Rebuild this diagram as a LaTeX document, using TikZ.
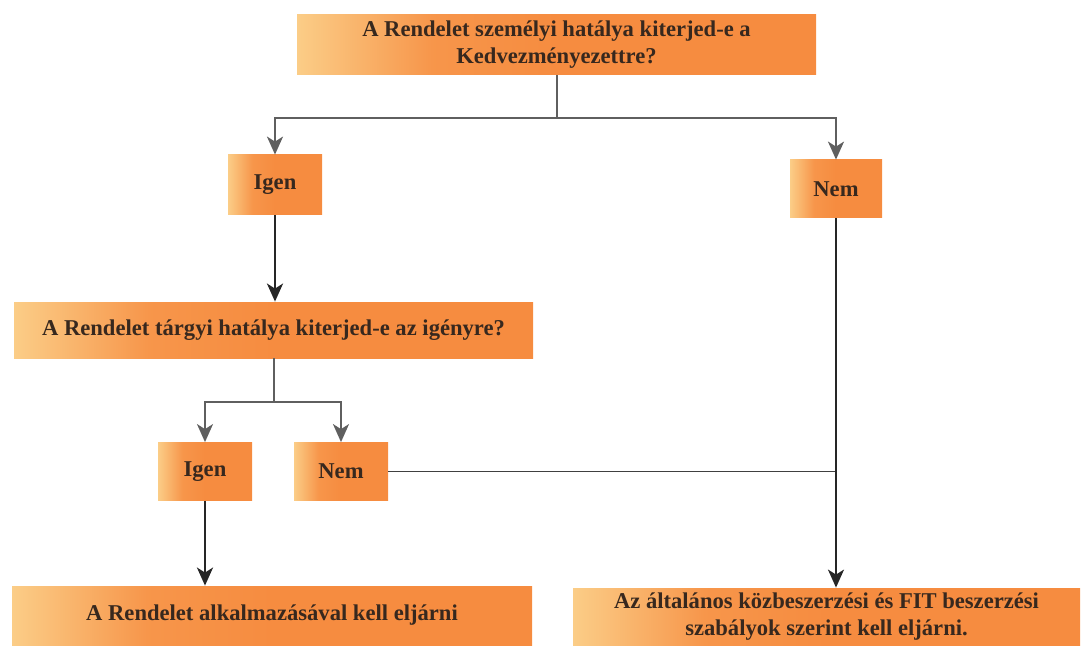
\documentclass[tikz,border=0pt]{standalone}
\usepackage{fontspec}
\setmainfont{Liberation Serif}
\usetikzlibrary{positioning, arrows.meta}

\definecolor{boxlight}{RGB}{251,205,135}
\definecolor{boxdark}{RGB}{246,140,64}
\definecolor{linegray}{RGB}{95,95,95}
\definecolor{textdark}{RGB}{55,40,30}
\pgfdeclarehorizontalshading{boxshade}{100bp}{color(0bp)=(boxlight); color(25bp)=(boxlight);
  color(38bp)=(boxdark!85!boxlight); color(50bp)=(boxdark); color(100bp)=(boxdark)}

\begin{document}
\begin{tikzpicture}[x=0.5pt, y=-0.5pt,
  box/.style={shading=boxshade, text=textdark,
    font=\bfseries\fontsize{11.3}{13.5}\selectfont,
    align=center, inner sep=0pt},
  grayline/.style={draw=linegray, line width=1pt},
  grayarrow/.style={grayline, -{Stealth[length=9pt,width=8pt,inset=2.5pt]}},
  blackarrow/.style={draw=black!85, line width=1.3pt, -{Stealth[length=9pt,width=8pt,inset=2.5pt]}}]
\useasboundingbox (0,0) rectangle (1083,647);

\node (q1) [box, minimum width=259.5pt, minimum height=30pt] at (556.5,45)
  {A Rendelet személyi hatálya kiterjed-e a\\Kedvezményezettre?};
\node (igen1) [box, minimum width=47pt, minimum height=30pt] at (275,185) {Igen};
\node (nem1) [box, minimum width=46pt, minimum height=29pt] at (836,189) {Nem};
\node (q2) [box, minimum width=259.5pt, minimum height=28pt] at (273.5,330)
  {A Rendelet tárgyi hatálya kiterjed-e az igényre?};
\node (igen2) [box, minimum width=47pt, minimum height=29pt] at (205,471.5) {Igen};
\node (nem2) [box, minimum width=47pt, minimum height=29pt] at (341,471.5) {Nem};
\node (out1) [box, minimum width=260pt, minimum height=29.5pt] at (272,615.5)
  {A Rendelet alkalmazásával kell eljárni};
\node (out2) [box, minimum width=253.5pt, minimum height=28.5pt] at (826.5,616.5)
  {Az általános közbeszerzési és FIT beszerzési\\szabályok szerint kell eljárni.};

% first question
\draw [grayline] (q1.south) -- ++(0,43) coordinate (split1);
\draw [grayarrow] (split1) -| (igen1.north);
\draw [grayarrow] (split1) -| (nem1.north);
\draw [blackarrow] (igen1.south) -- (igen1.south |- q2.north);

% second question
\draw [grayline] (q2.south) -- ++(0,44) coordinate (split2);
\draw [grayarrow] (split2) -| (igen2.north);
\draw [grayarrow] (split2) -| (nem2.north);
\draw [blackarrow] (igen2.south) -- (igen2.south |- out1.north);

% Nem branches
\coordinate (join) at (nem1.south |- nem2.east);
\draw [draw=black!75, line width=0.8pt] (nem2.east) -- (join);
\draw [blackarrow, line width=1pt] (nem1.south) -- (nem1.south |- out2.north);
\end{tikzpicture}
\end{document}
